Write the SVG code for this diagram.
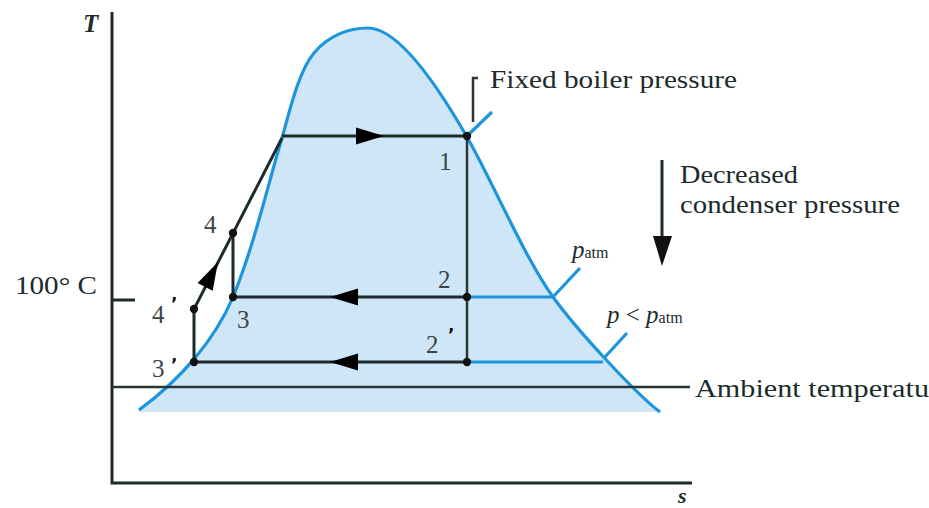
<svg xmlns="http://www.w3.org/2000/svg" width="929" height="508" viewBox="0 0 929 508">
<style>
.ink{stroke:#1c2b2b;fill:none;stroke-width:3;stroke-linecap:butt}
.thin{stroke:#2a3535;fill:none;stroke-width:2.5}
.blue{stroke:#1d95dc;fill:none;stroke-width:3.2}
.dot{fill:#111}
.head{fill:#111}
.num{font-family:"Liberation Serif",serif;font-size:25px;fill:#3d4444}
.lab{font-family:"Liberation Serif",serif;font-size:25px;fill:#1c2b2b}
.it{font-family:"Liberation Serif",serif;font-style:italic;fill:#1c2b2b}
.apo{font-family:"DejaVu Sans",sans-serif;font-weight:bold;font-size:17px;fill:#111}
</style>
<defs>
<path id="ah" d="M0,0 L-28,-8.5 L-28,8.5 Z"/>
<path id="domeLine" d="M139,410 C180,380 215,340 233,297 C254,246 267.5,186 282,138 C289,114 298,72 314,53 C328,36 348,28 368,28 C400,28 440,90 467,137 C492,180.5 524,256.5 553,297 C576,329 636,394 660,412"/>
</defs>

<g id="dome">
<path d="M139,410 C180,380 215,340 233,297 C254,246 267.5,186 282,138 C289,114 298,72 314,53 C328,36 348,28 368,28 C400,28 440,90 467,137 C492,180.5 524,256.5 553,297 C576,329 636,394 660,412 L139,412 Z" fill="#cfe6f9" stroke="none"/>
<use href="#domeLine" class="blue"/>
</g>

<g id="axes">
<path class="ink" d="M112,12 V483 H692"/>
<path class="ink" d="M112,300 H135"/>
<path class="thin" d="M112,387 H690"/>
<text class="it" x="83" y="32" font-size="25" font-weight="bold">T</text>
<text class="it" x="678" y="503" font-size="22" font-weight="bold">s</text>
<text class="lab" x="15" y="294" textLength="82" lengthAdjust="spacingAndGlyphs">100° C</text>
<text class="lab" x="695" y="397" textLength="234" lengthAdjust="spacingAndGlyphs">Ambient temperatu</text>
</g>

<g id="isobars">
<path class="blue" d="M467,297 H553 M467,362 H603"/>
<path class="blue" d="M467,136 L492,112 M553,297 L580,268 M605,357 L627,333"/>
<path class="thin" d="M478,78 H473 V122"/>
<text class="lab" x="490" y="88" textLength="247" lengthAdjust="spacingAndGlyphs">Fixed boiler pressure</text>
<text class="it" x="572" y="258" font-size="25">p<tspan font-style="normal" font-size="16">atm</tspan></text>
<text class="it" x="607" y="323" font-size="25">p <tspan font-style="normal">&lt;</tspan> p<tspan font-style="normal" font-size="16">atm</tspan></text>
</g>

<g id="condenser-arrow">
<path class="ink" d="M662,160 V240"/>
<path class="head" d="M653,236 L672,236 L662,266 Z"/>
<text class="lab" x="680" y="183" textLength="118" lengthAdjust="spacingAndGlyphs">Decreased</text>
<text class="lab" x="680" y="213" textLength="220" lengthAdjust="spacingAndGlyphs">condenser pressure</text>
</g>

<g id="connectors">
<path class="ink" d="M282,136 H467"/>
<path class="thin" d="M467,136 V362"/>
<path class="ink" d="M467,297 H233"/>
<path class="ink" d="M467,362 H194"/>
<path class="ink" d="M233,297 V233"/>
<path class="ink" d="M194,362 V309 L282,138"/>
<use href="#ah" transform="translate(384,136)"/>
<use href="#ah" transform="translate(330,297) rotate(180)"/>
<use href="#ah" transform="translate(330,362) rotate(180)"/>
<use href="#ah" transform="translate(218,262) rotate(-62.6)"/>
</g>

<g id="state-1"><circle class="dot" cx="467" cy="136" r="4.2"/><text class="num" x="439" y="170">1</text></g>
<g id="state-2"><circle class="dot" cx="467" cy="297" r="4.2"/><text class="num" x="438" y="288">2</text></g>
<g id="state-2p"><circle class="dot" cx="467" cy="362" r="4.2"/><text class="num" x="426" y="353">2</text><text class="apo" x="448" y="341">’</text></g>
<g id="state-3"><circle class="dot" cx="233" cy="297" r="4.2"/><text class="num" x="237" y="328">3</text></g>
<g id="state-3p"><circle class="dot" cx="194" cy="362" r="4.2"/><text class="num" x="152" y="377">3</text><text class="apo" x="171" y="371">’</text></g>
<g id="state-4"><circle class="dot" cx="233" cy="233" r="4.2"/><text class="num" x="204" y="233">4</text></g>
<g id="state-4p"><circle class="dot" cx="194" cy="309" r="4.2"/><text class="num" x="152" y="323">4</text><text class="apo" x="171" y="310">’</text></g>
</svg>
